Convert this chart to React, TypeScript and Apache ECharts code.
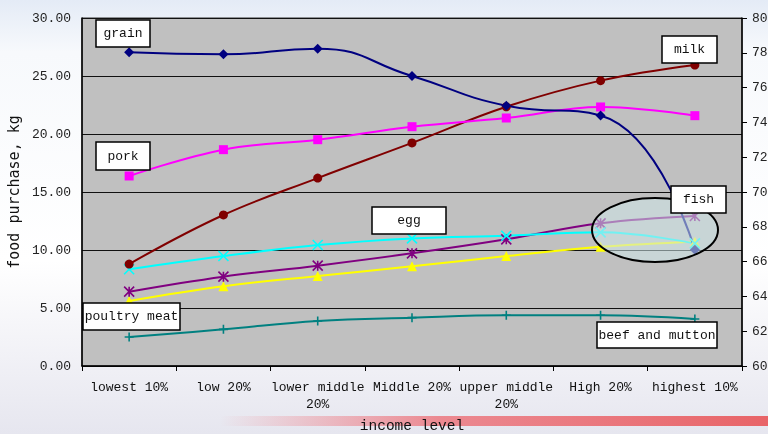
import React, { useEffect, useRef } from "react";
import * as echarts from "echarts";

const categories = ["lowest 10%", "low 20%", "lower middle 20%", "Middle 20%", "upper middle 20%", "High 20%", "highest 10%"];
const grain = [27.04, 26.87, 27.35, 25.0, 22.44, 21.6, 10.03];
const pork = [16.38, 18.65, 19.51, 20.63, 21.38, 22.33, 21.58];
const milk = [65.86, 68.68, 70.8, 72.82, 74.9, 76.4, 77.3];
const egg = [8.34, 9.48, 10.43, 11.0, 11.23, 11.52, 10.57];
const fish = [6.41, 7.7, 8.65, 9.71, 10.92, 12.3, 12.93];
const poultry = [5.6, 6.87, 7.76, 8.59, 9.48, 10.28, 10.72];
const beefMutton = [2.5, 3.16, 3.88, 4.17, 4.37, 4.37, 4.05];
const leftTicks = { min: 0, max: 30, interval: 5 };
const rightTicks = { min: 60, max: 80, interval: 2 };

const MONO = "'Liberation Mono', 'DejaVu Sans Mono', monospace";

const labelBox = (text: string, x: number, y: number, w: number, h: number) => ({
  type: "group",
  x,
  y,
  z: 120,
  children: [
    { type: "rect", shape: { x: 0, y: 0, width: w, height: h }, style: { fill: "#fff", stroke: "#000", lineWidth: 1.5 }, z: 120 },
    {
      type: "text",
      x: w / 2,
      y: h / 2,
      z: 121,
      style: { text, fill: "#111", font: `13px ${MONO}`, align: "center", verticalAlign: "middle" },
    },
  ],
});

export default function App() {
  const ref = useRef<HTMLDivElement>(null);
  useEffect(() => {
    if (!ref.current) return;
    const chart = echarts.init(ref.current, undefined, { renderer: "svg" });
    const mk = (name: string, data: number[], color: string, symbol: string, size: number, yAxisIndex = 0, stroke = false, smooth = 0.4) => ({
      name,
      type: "line",
      data,
      yAxisIndex,
      smooth,
      symbol,
      symbolSize: size,
      lineStyle: { color, width: 2 },
      itemStyle: stroke ? { color: "rgba(0,0,0,0)", borderColor: color, borderWidth: 1.6 } : { color, borderWidth: 0 },
      z: 3,
    });
    chart.setOption({
      animation: false,
      backgroundColor: "transparent",
      textStyle: { fontFamily: MONO },
      grid: {
        left: 82,
        top: 18,
        right: 26,
        bottom: 68,
        containLabel: false,
        outerBoundsMode: "none",
        show: true,
        backgroundColor: "#c0c0c0",
        borderColor: "#333",
        borderWidth: 1,
      },
      xAxis: {
        type: "category",
        data: categories,
        boundaryGap: true,
        name: "income level",
        nameLocation: "middle",
        nameGap: 52,
        nameTextStyle: { fontFamily: MONO, fontSize: 14.5, color: "#111" },
        axisLine: { lineStyle: { color: "#000", width: 1.5 } },
        axisTick: { show: true, length: 5, lineStyle: { color: "#000" } },
        axisLabel: {
          color: "#111",
          fontFamily: MONO,
          fontSize: 13,
          margin: 13,
          lineHeight: 17,
          interval: 0,
          formatter: (v: string) => (v.length > 12 ? v.replace(/ (\S+)$/, "\n$1") : v),
        },
      },
      yAxis: [
        {
          type: "value",
          ...leftTicks,
          name: "food purchase, kg",
          nameLocation: "middle",
          nameGap: 58,
          nameTextStyle: { fontFamily: "'DejaVu Sans Mono', monospace", fontSize: 15, color: "#111" },
          axisLine: { show: true, lineStyle: { color: "#000", width: 1.5 } },
          axisTick: { show: false },
          axisLabel: { color: "#222", fontFamily: MONO, fontSize: 13, margin: 11, formatter: (v: number) => v.toFixed(2) },
          splitLine: { show: true, lineStyle: { color: "#111", width: 1 } },
        },
        {
          type: "value",
          ...rightTicks,
          position: "right",
          axisLine: { show: true, lineStyle: { color: "#000", width: 1.5 } },
          axisTick: { show: true, length: 5, lineStyle: { color: "#000" } },
          axisLabel: { color: "#222", fontFamily: MONO, fontSize: 13, margin: 10 },
          splitLine: { show: false },
        },
      ],
      series: [
        mk("beef and mutton", beefMutton, "#008080", "path://M5,0L5,10M0,5L10,5", 9, 0, true),
        mk("poultry meat", poultry, "#FFFF00", "triangle", 10),
        mk("fish", fish, "#800080", "path://M0,0L10,10M10,0L0,10M5,0L5,10", 10, 0, true),
        mk("egg", egg, "#00FFFF", "path://M0,0L10,10M10,0L0,10", 10, 0, true),
        mk("milk", milk, "#800000", "circle", 9, 1),
        mk("pork", pork, "#FF00FF", "rect", 9),
        mk("grain", grain, "#000080", "diamond", 10, 0, false, 0.5),
      ],
      graphic: [
        {
          type: "rect",
          z: -10,
          silent: true,
          shape: { x: 0, y: 0, width: 768, height: 434 },
          style: {
            fill: new echarts.graphic.LinearGradient(0, 0, 0, 1, [
              { offset: 0, color: "#e4ebf6" },
              { offset: 0.12, color: "#f7f9fc" },
              { offset: 0.6, color: "#ffffff" },
              { offset: 1, color: "#e6e6ef" },
            ]),
          },
        },
        {
          type: "rect",
          z: -9,
          silent: true,
          shape: { x: 220, y: 416, width: 548, height: 10 },
          style: {
            fill: new echarts.graphic.LinearGradient(0, 0, 1, 0, [
              { offset: 0, color: "rgba(240,120,130,0)" },
              { offset: 0.4, color: "rgba(236,120,128,0.85)" },
              { offset: 1, color: "#e86468" },
            ]),
          },
        },
        {
          type: "ellipse",
          z: 100,
          shape: { cx: 655, cy: 230, rx: 63, ry: 32 },
          style: { fill: "rgba(205,230,232,0.55)", stroke: "#000", lineWidth: 2 },
        },
        labelBox("grain", 96, 20, 54, 27),
        labelBox("pork", 96, 142, 54, 28),
        labelBox("milk", 662, 36, 55, 27),
        labelBox("fish", 671, 186, 55, 27),
        labelBox("egg", 372, 207, 74, 27),
        labelBox("poultry meat", 83, 303, 97, 27),
        labelBox("beef and mutton", 597, 322, 120, 26),
      ],
    });
    return () => chart.dispose();
  }, []);
  return <div ref={ref} style={{ position: "fixed", left: 0, top: 0, width: 768, height: 434 }} />;
}
